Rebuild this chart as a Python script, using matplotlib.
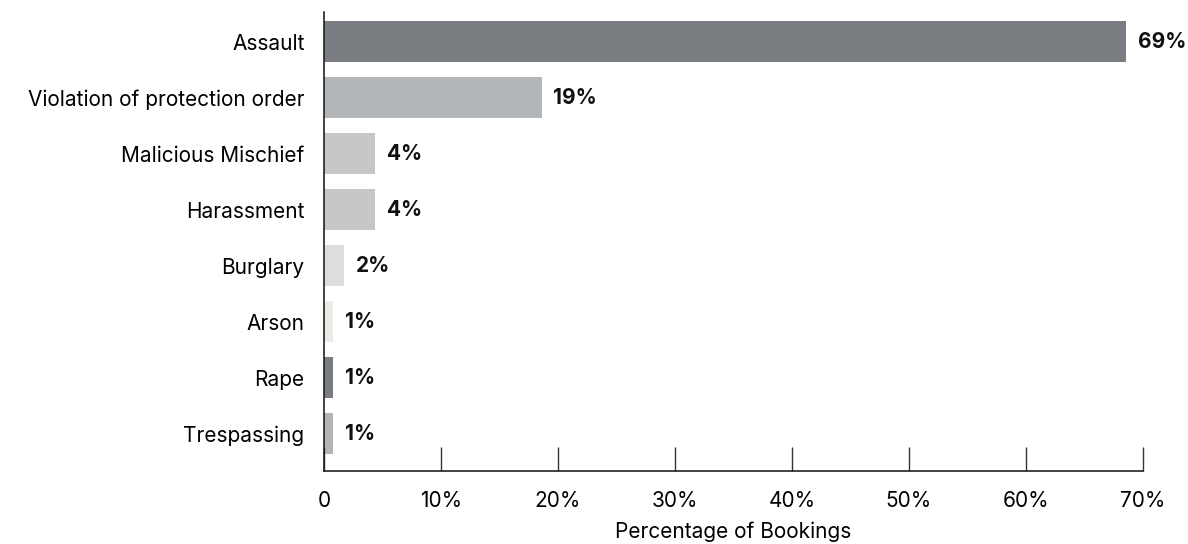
import matplotlib.pyplot as plt
from matplotlib.ticker import FuncFormatter

plt.rcParams['font.family'] = ['Inter', 'DejaVu Sans']

categories = ["Assault", "Violation of protection order", "Malicious Mischief",
              "Harassment", "Burglary", "Arson", "Rape", "Trespassing"]
shares = [68.6, 18.6, 4.4, 4.4, 1.7, 0.8, 0.8, 0.8]
colors = ["#797d81", "#b3b6b9", "#c6c7c6", "#c6c7c6",
          "#dddddb", "#ebebe7", "#797d81", "#b3b6b9"]

fig = plt.figure(figsize=(11.88, 5.44), dpi=100)
ax = fig.add_axes([0.2727, 0.134, 0.962 - 0.2727, 0.978 - 0.134])

ypos = list(range(len(categories)))
ax.barh(ypos, shares, height=0.73, color=colors)

for y, v in zip(ypos, shares):
    ax.text(v + 1.0, y, f"{round(v):d}%", va="center", ha="left",
            fontsize=15, fontweight="bold", color="#111111")

ax.set_yticks(ypos)
ax.set_yticklabels(categories, fontsize=15)
ax.set_ylim(7.67, -0.53)
ax.set_xlim(0, 70)
ax.set_xticks(range(0, 71, 10))
ax.xaxis.set_major_formatter(FuncFormatter(lambda x, p: "0" if x == 0 else f"{x:.0f}%"))
ax.tick_params(axis="x", direction="in", length=17, width=1, color="#333333",
               labelsize=15, pad=14)
ax.tick_params(axis="y", length=0, pad=14)
ax.set_xlabel("Percentage of Bookings", fontsize=15, labelpad=8)

for side in ("top", "right"):
    ax.spines[side].set_visible(False)
for side in ("left", "bottom"):
    ax.spines[side].set_color("#222222")
    ax.spines[side].set_linewidth(1.2)

fig.savefig("out.png", dpi=100)
